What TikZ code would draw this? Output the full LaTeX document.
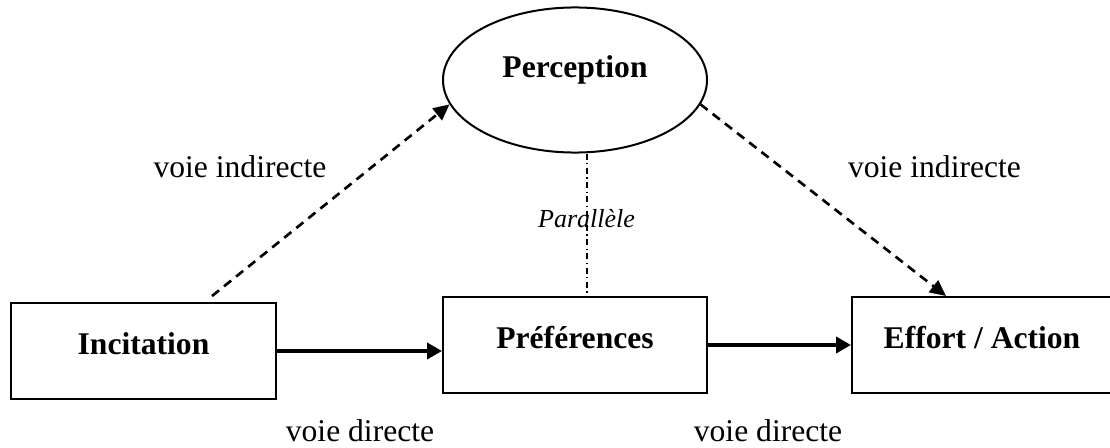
\documentclass[tikz,border=0pt]{standalone}
\usepackage{fontspec}
\setmainfont{Liberation Serif}
\usetikzlibrary{shapes.geometric,arrows.meta}

\begin{document}
\begin{tikzpicture}[x=0.375pt, y=-0.375pt,
	box/.style={draw, line width=0.75pt, minimum height=36pt, text height=8pt, text depth=5.75pt, font=\fontsize{11.85}{14}\selectfont\bfseries},
	oval/.style={draw, ellipse, line width=0.75pt, inner sep=0pt, minimum width=99pt, minimum height=54.4pt, text height=8pt, text depth=9.5pt, font=\fontsize{11.85}{14}\selectfont\bfseries},
	lbl/.style={anchor=base, inner sep=0pt, font=\fontsize{11.85}{14}\selectfont},
	direct/.style={line width=1.5pt, -{Triangle[length=5.6pt, width=6pt]}},
	indirect/.style={line width=1pt, dash pattern=on 3.4pt off 2.4pt, -{Triangle[length=6pt, width=5.6pt]}},
	parallel/.style={line width=0.45pt, dash pattern=on 2.25pt off 1.3pt on 0.5pt off 1.3pt}]
	\clip (0,0) rectangle (1110,448);

	\node[oval]						(perc)	at (575,80)		{Perception};
	\node[box, minimum width=99.4pt]	(inc)	at (143.5,351)	{Incitation};
	\node[box, minimum width=99pt]	(pref)	at (575,345)	{Préférences};
	\node[box, minimum width=97.5pt]	(eff)	at (982,345)	{Effort / Action};

	\node[lbl]	(ind1)	at (240,178)	{voie indirecte};
	\node[lbl]	(ind2)	at (934.5,178)	{voie indirecte};
	\node[lbl]	(dir1)	at (360,441)	{voie directe};
	\node[lbl]	(dir2)	at (768,441)	{voie directe};
	\node[lbl, font=\fontsize{9.75}{12}\selectfont\itshape]	(par)	at (586.5,227)	{Parallèle};

	\path
	(inc.east)	edge[direct]	(inc -| pref.west)
	(pref)		edge[direct]	(eff)
	([xshift=25.7pt, yshift=2.25pt]inc.north)	edge[indirect]	(perc.191)
	(perc.-11)	edge[indirect]	([xshift=-13.5pt]eff.north)
	([xshift=4.5pt]perc.south)	edge[parallel]	([xshift=4.5pt]pref.north);
\end{tikzpicture}
\end{document}
